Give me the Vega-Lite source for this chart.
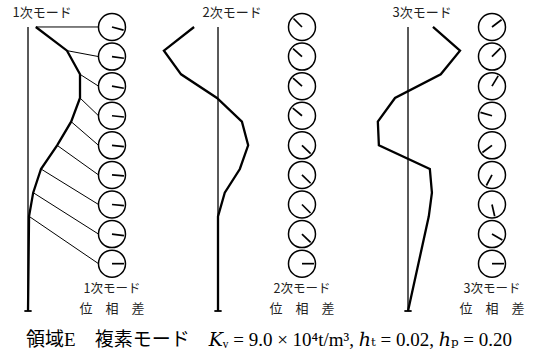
{
  "$schema": "https://vega.github.io/schema/vega-lite/v6.json",
  "padding": 0,
  "autosize": {"type": "pad"},
  "bounds": "flush",
  "background": "white",
  "config": {"view": {"stroke": null}, "font": "Noto Sans CJK JP"},
  "data": {"values": [
    {"kind": "label", "mode": 1, "top": "1次モード", "bottom": "1次モード"},
    {"kind": "label", "mode": 2, "top": "2次モード", "bottom": "2次モード"},
    {"kind": "label", "mode": 3, "top": "3次モード", "bottom": "3次モード"},
    {"kind": "node", "mode": 1, "k": 1, "h": 12, "amp": 0.15, "hc": 12, "lag": 15},
    {"kind": "node", "mode": 1, "k": 2, "h": 11, "amp": 0.75, "hc": 10.75, "lag": 8},
    {"kind": "node", "mode": 1, "k": 3, "h": 10, "amp": 1.0, "hc": 9.5, "lag": 10},
    {"kind": "node", "mode": 1, "k": 4, "h": 9, "amp": 1.0, "hc": 8.25, "lag": 6},
    {"kind": "node", "mode": 1, "k": 5, "h": 8, "amp": 0.83, "hc": 7, "lag": 6},
    {"kind": "node", "mode": 1, "k": 6, "h": 7, "amp": 0.56, "hc": 5.75, "lag": 5},
    {"kind": "node", "mode": 1, "k": 7, "h": 6, "amp": 0.25, "hc": 4.5, "lag": 5},
    {"kind": "node", "mode": 1, "k": 8, "h": 5, "amp": 0.1, "hc": 3.25, "lag": 7},
    {"kind": "node", "mode": 1, "k": 9, "h": 4, "amp": 0.02, "hc": 2, "lag": 0},
    {"kind": "node", "mode": 1, "k": 10, "h": 0, "amp": 0},
    {"kind": "node", "mode": 2, "k": 1, "h": 12, "amp": -0.46, "hc": 12, "lag": 225},
    {"kind": "node", "mode": 2, "k": 2, "h": 11, "amp": -1.04, "hc": 10.75, "lag": 222},
    {"kind": "node", "mode": 2, "k": 3, "h": 10, "amp": -0.71, "hc": 9.5, "lag": 222},
    {"kind": "node", "mode": 2, "k": 4, "h": 9, "amp": -0.02, "hc": 8.25, "lag": 220},
    {"kind": "node", "mode": 2, "k": 5, "h": 8, "amp": 0.46, "hc": 7, "lag": 44},
    {"kind": "node", "mode": 2, "k": 6, "h": 7, "amp": 0.58, "hc": 5.75, "lag": 44},
    {"kind": "node", "mode": 2, "k": 7, "h": 6, "amp": 0.42, "hc": 4.5, "lag": 45},
    {"kind": "node", "mode": 2, "k": 8, "h": 5, "amp": 0.13, "hc": 3.25, "lag": 44},
    {"kind": "node", "mode": 2, "k": 9, "h": 4, "amp": 0.0, "hc": 2, "lag": 0},
    {"kind": "node", "mode": 2, "k": 10, "h": 0, "amp": 0},
    {"kind": "node", "mode": 3, "k": 1, "h": 12, "amp": 0.48, "hc": 12, "lag": 323},
    {"kind": "node", "mode": 3, "k": 2, "h": 11, "amp": 1.0, "hc": 10.75, "lag": 315},
    {"kind": "node", "mode": 3, "k": 3, "h": 10, "amp": 0.63, "hc": 9.5, "lag": 301},
    {"kind": "node", "mode": 3, "k": 4, "h": 9, "amp": -0.25, "hc": 8.25, "lag": 196},
    {"kind": "node", "mode": 3, "k": 5, "h": 8, "amp": -0.58, "hc": 7, "lag": 143},
    {"kind": "node", "mode": 3, "k": 6, "h": 7, "amp": -0.56, "hc": 5.75, "lag": 118},
    {"kind": "node", "mode": 3, "k": 7, "h": 6, "amp": 0.42, "hc": 4.5, "lag": 77},
    {"kind": "node", "mode": 3, "k": 8, "h": 5, "amp": 0.46, "hc": 3.25, "lag": 30},
    {"kind": "node", "mode": 3, "k": 9, "h": 4, "amp": 0.4, "hc": 2, "lag": 0},
    {"kind": "node", "mode": 3, "k": 10, "h": 0, "amp": 0}
  ]},
  "title": {
    "text": "領域E　複素モード　𝐾ᵥ = 9.0 × 10⁴t/m³,  ℎₜ = 0.02,  ℎₚ = 0.20",
    "orient": "bottom",
    "anchor": "middle",
    "fontSize": 19,
    "fontWeight": "normal",
    "font": "Liberation Serif, DejaVu Serif, Noto Sans CJK JP",
    "color": "black",
    "offset": 11,
    "dx": 4
  },
  "facet": {"column": {"field": "mode", "type": "ordinal", "header": {"labels": false, "title": null}}},
  "spacing": 40,
  "spec": {
    "width": 150,
    "height": 320,
    "layer": [
      {
        "transform": [{"filter": "datum.kind == 'label'"}],
        "mark": {"type": "rule", "color": "black", "strokeWidth": 1.3},
        "encoding": {
          "x": {"datum": 0, "type": "quantitative", "scale": {"domain": [-0.5385, 2.346], "nice": false, "zero": false}, "axis": null},
          "y": {"datum": 0, "type": "quantitative", "scale": {"domain": [-0.38, 13.14], "nice": false, "zero": false}, "axis": null},
          "y2": {"datum": 12}
        }
      },
      {
        "transform": [{"filter": "datum.kind == 'label'"}],
        "mark": {"type": "rule", "color": "black", "strokeWidth": 1.8},
        "encoding": {
          "x": {"datum": -0.07, "type": "quantitative", "scale": {"domain": [-0.5385, 2.346], "nice": false, "zero": false}, "axis": null},
          "x2": {"datum": 0.07},
          "y": {"datum": 0, "type": "quantitative", "scale": {"domain": [-0.38, 13.14], "nice": false, "zero": false}, "axis": null}
        }
      },
      {
        "transform": [{"filter": "datum.kind == 'node' && datum.mode == 1 && datum.k <= 9"}],
        "mark": {"type": "rule", "color": "black", "strokeWidth": 1},
        "encoding": {
          "x": {"field": "amp", "type": "quantitative", "scale": {"domain": [-0.5385, 2.346], "nice": false, "zero": false}, "axis": null},
          "y": {"field": "h", "type": "quantitative", "scale": {"domain": [-0.38, 13.14], "nice": false, "zero": false}, "axis": null},
          "x2": {"datum": 1.356},
          "y2": {"field": "hc"}
        }
      },
      {
        "transform": [{"filter": "datum.kind == 'node'"}],
        "mark": {"type": "line", "color": "black", "strokeWidth": 2.3, "strokeJoin": "miter"},
        "encoding": {
          "x": {"field": "amp", "type": "quantitative", "scale": {"domain": [-0.5385, 2.346], "nice": false, "zero": false}, "axis": null},
          "y": {"field": "h", "type": "quantitative", "scale": {"domain": [-0.38, 13.14], "nice": false, "zero": false}, "axis": null},
          "order": {"field": "k", "type": "quantitative"}
        }
      },
      {
        "transform": [{"filter": "datum.kind == 'node' && datum.k <= 9"}],
        "mark": {"type": "point", "shape": "circle", "size": 729, "filled": false, "stroke": "black", "strokeWidth": 1.5, "opacity": 1},
        "encoding": {
          "x": {"datum": 1.615, "type": "quantitative", "scale": {"domain": [-0.5385, 2.346], "nice": false, "zero": false}, "axis": null},
          "y": {"field": "hc", "type": "quantitative", "scale": {"domain": [-0.38, 13.14], "nice": false, "zero": false}, "axis": null}
        }
      },
      {
        "transform": [{"filter": "datum.kind == 'node' && datum.k <= 9"}],
        "mark": {"type": "point", "shape": "M0,0L1,0", "size": 576, "filled": false, "stroke": "black", "strokeWidth": 1.7, "opacity": 1},
        "encoding": {
          "x": {"datum": 1.615, "type": "quantitative", "scale": {"domain": [-0.5385, 2.346], "nice": false, "zero": false}, "axis": null},
          "y": {"field": "hc", "type": "quantitative", "scale": {"domain": [-0.38, 13.14], "nice": false, "zero": false}, "axis": null},
          "angle": {"field": "lag", "type": "quantitative", "scale": null}
        }
      },
      {
        "transform": [{"filter": "datum.kind == 'label'"}],
        "mark": {"type": "text", "fontSize": 13, "font": "Noto Sans CJK JP", "color": "#222", "align": "center", "baseline": "middle"},
        "encoding": {
          "x": {"datum": 0.27, "type": "quantitative", "scale": {"domain": [-0.5385, 2.346], "nice": false, "zero": false}, "axis": null},
          "y": {"datum": 12.6, "type": "quantitative", "scale": {"domain": [-0.38, 13.14], "nice": false, "zero": false}, "axis": null},
          "text": {"field": "top"}
        }
      },
      {
        "transform": [{"filter": "datum.kind == 'label'"}],
        "mark": {"type": "text", "fontSize": 12.5, "font": "Noto Sans CJK JP", "color": "#222", "align": "center", "baseline": "middle"},
        "encoding": {
          "x": {"datum": 1.615, "type": "quantitative", "scale": {"domain": [-0.5385, 2.346], "nice": false, "zero": false}, "axis": null},
          "y": {"datum": 0.93, "type": "quantitative", "scale": {"domain": [-0.38, 13.14], "nice": false, "zero": false}, "axis": null},
          "text": {"field": "bottom"}
        }
      },
      {
        "transform": [{"filter": "datum.kind == 'label'"}],
        "mark": {"type": "text", "fontSize": 13, "font": "Noto Sans CJK JP", "color": "#222", "align": "center", "baseline": "middle", "text": "位　相　差"},
        "encoding": {
          "x": {"datum": 1.615, "type": "quantitative", "scale": {"domain": [-0.5385, 2.346], "nice": false, "zero": false}, "axis": null},
          "y": {"datum": 0.1, "type": "quantitative", "scale": {"domain": [-0.38, 13.14], "nice": false, "zero": false}, "axis": null}
        }
      }
    ]
  }
}
